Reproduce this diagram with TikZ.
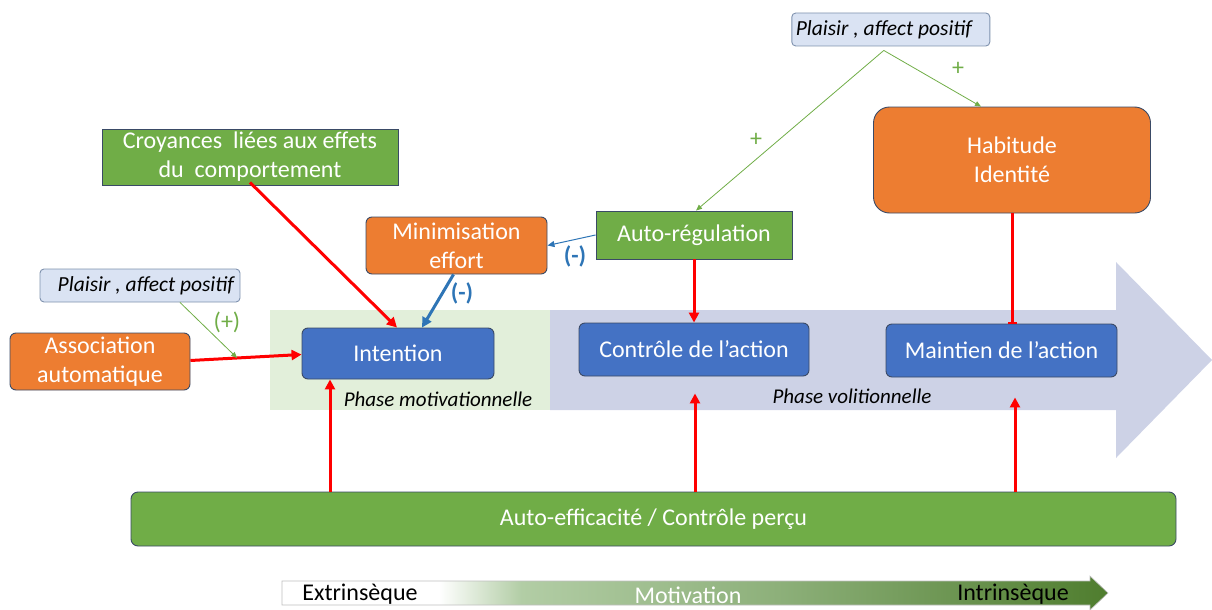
\documentclass[tikz,border=0pt]{standalone}
\usepackage{fontspec}
\setmainfont{Carlito}
\usetikzlibrary{arrows.meta,calc}
\definecolor{orangebox}{HTML}{ED7D31}
\definecolor{greenbox}{HTML}{70AD47}
\definecolor{bluebox}{HTML}{4472C4}
\definecolor{boxline}{HTML}{3A4A66}
\definecolor{affectfill}{HTML}{DAE3F3}
\definecolor{affectline}{HTML}{7F92AE}
\definecolor{volphase}{HTML}{CDD2E6}
\definecolor{motphase}{HTML}{E2EFDA}
\definecolor{minusblue}{HTML}{2E75B6}
\definecolor{plusgreen}{HTML}{70AD47}
\definecolor{mlight}{HTML}{B2CDA5}
\definecolor{mmid}{HTML}{8DB07A}
\definecolor{mdark}{HTML}{4F7D2E}
\pgfdeclarehorizontalshading{motivshade}{100bp}{color(0bp)=(white); color(25bp)=(white); color(34.5bp)=(white); color(39.5bp)=(mlight); color(55bp)=(mmid); color(75bp)=(mdark); color(100bp)=(mdark)}
\tikzset{
  txt/.style={font=\fontsize{24}{29}\selectfont},
  box/.style={draw=boxline, line width=0.9pt, text=white, align=center, inner sep=0pt, txt},
  orangenode/.style={box, fill=orangebox, rounded corners=6pt},
  greennode/.style={box, fill=greenbox},
  bluenode/.style={box, fill=bluebox, rounded corners=6pt},
  affect/.style={draw=affectline, line width=0.9pt, fill=affectfill, rounded corners=4pt, inner sep=0pt,
                 minimum height=33pt, font=\fontsize{21.5}{25}\selectfont\itshape},
  redarrow/.style={draw=red, line width=3pt, -{Triangle[length=10pt,width=10pt]}},
  greenthin/.style={draw=plusgreen, line width=0.8pt, -{Triangle[length=6pt,width=5pt]}},
  bluethin/.style={draw=minusblue, line width=1pt, -{Triangle[length=7pt,width=6pt]}},
  bluethick/.style={draw=minusblue, line width=3pt, -{Triangle[length=10pt,width=10pt]}},
  phase/.style={font=\fontsize{21}{25}\selectfont\itshape, text=black},
  minuslabel/.style={text=minusblue, font=\fontsize{24}{29}\selectfont\bfseries},
}
\begin{document}
\begin{tikzpicture}[x=1pt,y=-1pt]
\useasboundingbox (0,0) rectangle (1212,610);

% phases: volitional arrow and motivational band
\fill[volphase] (550,310) -- (1116,310) -- (1116,262) -- (1212,360) -- (1116,458) -- (1116,410) -- (550,410) -- cycle;
\fill[motphase] (270,310) rectangle (550,410);
\node[phase] (phmot) at (438,399) {Phase motivationnelle};
\node[phase] (phvol) at (852,396) {Phase volitionnelle};

% motivation scale
\shade[shading=motivshade, draw=gray!50, line width=0.6pt]
  (282,581) -- (1090,581) -- (1090,576) -- (1108,593) -- (1090,610) -- (1090,605) -- (282,605) -- cycle;
\node[txt, text=black] (extr) at (360,594) {Extrinsèque};
\node[txt, text=white] (motiv) at (688,595) {Motivation};
\node[txt, text=black] (intr) at (1013,594) {Intrinsèque};

% nodes
\node[orangenode, minimum width=180pt, minimum height=57pt] (assoc) at (100,361.5) {Association\\automatique};
\node[affect] (plaisirL) at (140,285.5) {\makebox[200pt][r]{Plaisir , affect positif\hspace{6pt}}};
\node[bluenode, minimum width=192pt, minimum height=51pt] (intention) at (398,353.5) {Intention};
\node[greennode, minimum width=296pt, minimum height=56pt] (croy) at (250,157) {Croyances\ \ liées aux effets\\du\ \ comportement};
\node[orangenode, minimum width=181pt, minimum height=57pt] (minim) at (456.5,245.5) {Minimisation\\effort};
\node[greennode, minimum width=196pt, minimum height=48pt] (autoreg) at (694,235) {Auto-régulation};
\node[affect] (plaisirT) at (890.8,29.5) {\makebox[198pt][l]{\hspace{4pt}Plaisir , affect positif}};
\node[orangenode, rounded corners=16pt, minimum width=277pt, minimum height=106pt] (habit) at (1012,160) {Habitude\\Identité};
\node[bluenode, minimum width=230pt, minimum height=53pt] (controle) at (694,349.5) {Contrôle de l’action};
\node[bluenode, minimum width=231pt, minimum height=53pt] (maintien) at (1001.5,350.5) {Maintien de l’action};
\node[greennode, rounded corners=7pt, minimum width=1045pt, minimum height=54pt] (autoeff) at (653.5,519) {Auto-efficacité / Contrôle perçu};

% connectors
\draw[redarrow] ([yshift=1]assoc.east) -- coordinate[pos=0.42] (joinL) ([yshift=-1]intention.west);
\draw[greenthin] ([xshift=40]plaisirL.south) -- (joinL);
\node[txt, text=plusgreen] (plusL) at (227,322) {(+)};

\draw[redarrow] ([yshift=3]croy.south) -- ([xshift=-1]intention.north);
\draw[bluethick] ([xshift=-3]minim.south) -- ([xshift=24]intention.north);
\node[minuslabel] (minusA) at (462,293) {(-)};

\draw[bluethin] (autoreg.west) -- (minim.east);
\node[minuslabel] (minusB) at (575,256) {(-)};

\coordinate (apex) at ([shift={(-7,4)}]plaisirT.south);
\draw[greenthin] (apex) -- ([xshift=2]autoreg.north);
\draw[greenthin] (apex) -- ([xshift=-31]habit.north);
\node[txt, text=plusgreen] (plusA) at (756,140) {+};
\node[txt, text=plusgreen] (plusB) at (958,69) {+};

\draw[redarrow] (autoreg.south) -- (controle.north);
\draw[draw=red, line width=3pt, -{Bar[width=9pt,line width=1.5pt]}] (habit.south) -- (habit.south |- maintien.north);

\coordinate (upI) at ([xshift=-68]intention.south);
\coordinate (upC) at ([shift={(1,17)}]controle.south);
\coordinate (upM) at ([shift={(13.5,20)}]maintien.south);
\draw[redarrow] (autoeff.north -| upI) -- (upI);
\draw[redarrow] (autoeff.north -| upC) -- (upC);
\draw[redarrow] (autoeff.north -| upM) -- (upM);
\end{tikzpicture}
\end{document}
